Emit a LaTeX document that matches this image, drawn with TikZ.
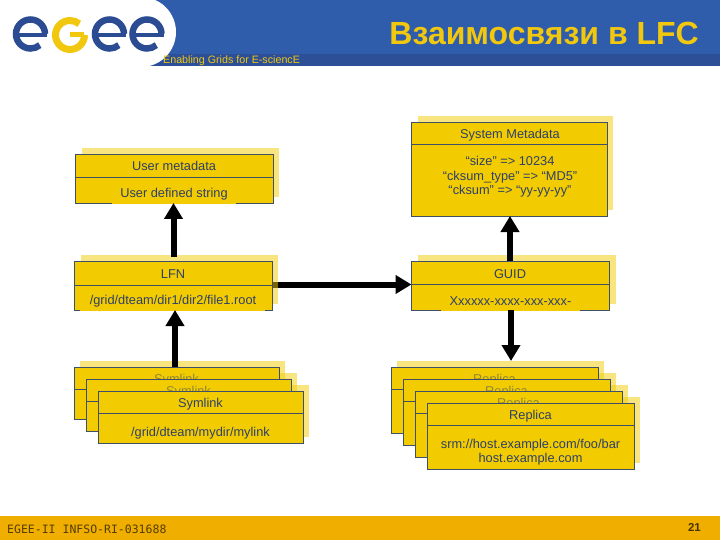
\documentclass[tikz,border=0pt]{standalone}
\usepackage{fontspec}
\setmainfont{Liberation Sans}
\newfontfamily\monof{DejaVu Sans Mono}
\usetikzlibrary{arrows.meta}
\definecolor{hblue}{HTML}{2F5CAB}
\definecolor{hband}{HTML}{2C4F97}
\definecolor{lblue}{HTML}{2B4C93}
\definecolor{lyel}{HTML}{F2C80F}
\definecolor{boxf}{HTML}{F2CC00}
\definecolor{boxl}{HTML}{3F4F66}
\definecolor{boxt}{HTML}{2E3F6A}
\definecolor{foot}{HTML}{F0AE00}
\tikzset{
 shad/.style={fill=boxf,fill opacity=.5,inner sep=0pt,outer sep=0pt},
 card/.style={fill=boxf,draw=boxl,line width=.8pt,inner sep=0pt,outer sep=0pt},
 lab/.style={text=boxt,font=\fontsize{12.8}{14.7}\selectfont,align=center,inner sep=0pt,yshift=-1.3pt},
 notch/.style={fill=boxf,inner sep=0pt},
 faded/.style={text=boxt!50!boxf,font=\fontsize{12.8}{15}\selectfont,inner sep=0pt,yshift=-1.3pt},
 conn/.style={line width=6pt,-{Triangle[length=16pt,width=18pt]}},
 logoE/.style={line width=7pt,draw=lblue},
 logoG/.style={line width=7pt,draw=lyel}
}
\newcommand{\cardat}[6]{%
 \node[shad,minimum width={(#4-#2)*1pt},minimum height={(#5-#3)*1pt}] (#1s) at ({(#2+#4)/2+6},{(#3+#5)/2-6}) {};
}
\newcommand{\cardbox}[6]{%
 \node[card,minimum width={(#4-#2)*1pt},minimum height={(#5-#3)*1pt}] (#1) at ({(#2+#4)/2},{(#3+#5)/2}) {};
 \draw[boxl,line width=.8pt] (#1.west |- 0,#6) -- (#1.east |- 0,#6);
}
\newcommand{\logoe}[2]{%
 \draw[logoE,line width=4.5pt] ({#1-14.5},#2) -- ({#1+16.5},#2);
 \draw[logoE,line width=6.5pt] ({#1+14.5},{#2-1}) arc[start angle=0,end angle=310,x radius=14.5pt,y radius=14.5pt];
}
\begin{document}
\begin{tikzpicture}[x=1pt,y=-1pt]
\useasboundingbox (0,0) rectangle (720,540);
\fill[white] (0,0) rectangle (720,540);
% header
\fill[hblue] (0,0) rectangle (720,54);
\fill[hband] (0,54) rectangle (720,66);
\fill[white] (0,0) rectangle (141,67);
\fill[white] (141,32) circle[radius=35];
\logoe{30.5}{35}
\draw[logoG,line width=5pt] (70,35) -- (84,35);
\draw[logoG] (84.5,35) arc[start angle=0,end angle=-310,radius=14.5pt];
\logoe{109.5}{35}
\logoe{147}{35}
\node[anchor=west,text=lyel,font=\fontsize{10.7}{12}\selectfont,inner sep=0pt] (tag) at (163,60.5) {Enabling Grids for E-sciencE};
\node[anchor=east,text=lyel,font=\fontsize{32}{36}\bfseries\selectfont,inner sep=0pt] (title) at (699,33) {Взаимосвязи в LFC};
% footer
\fill[foot] (0,516) rectangle (720,540);
\node[anchor=west,text=black!65!foot,font=\fontsize{11.5}{13}\monof\selectfont,inner sep=0pt] (ftr) at (7,529) {EGEE-II INFSO-RI-031688};
\node[anchor=east,text=black!70!foot,font=\fontsize{11.5}{13}\bfseries\selectfont,inner sep=0pt] (pg) at (701,527) {21};
% shadows, the horizontal arrow below them
\coordinate (hstart) at (272,284.5);
\coordinate (hend) at (411.5,284.5);
\draw[conn] (hstart) -- (hend);
\cardat{um}{75.5}{154}{273}{203}{177}
\cardat{lfn}{74.5}{261}{272}{310}{285}
\cardat{sm}{411.5}{122.5}{607}{216}{144}
\cardat{gu}{411.5}{261}{609.5}{310}{284}
\cardat{sa}{74}{367}{279}{419}{389}
\cardat{sb}{86}{379}{291}{431}{401}
\cardat{sc}{98}{391}{303}{443}{413}
\cardat{ra}{391}{367}{598}{433}{389}
\cardat{rb}{403}{379}{610}{445}{401}
\cardat{rc}{415}{391}{622}{457}{413}
\cardat{rd}{427}{403}{634}{469}{425}
% single boxes
\cardbox{um}{75.5}{154}{273}{203}{177}
\cardbox{lfn}{74.5}{261}{272}{310}{285}
\cardbox{sm}{411.5}{122.5}{607}{216}{144}
\cardbox{gu}{411.5}{261}{609.5}{310}{284}
\node[lab] (umh) at (174,165) {User metadata};
\node[notch,minimum width=124pt,minimum height=5pt] (umn) at (174,201.5) {};
\node[lab] (umt) at (174,193) {User defined string};
\node[lab] (lfnh) at (173,272.5) {LFN};
\node[notch,minimum width=185pt,minimum height=5pt] (lfnn) at (172.5,308.5) {};
\node[lab] (lfnt) at (173,300) {/grid/dteam/dir1/dir2/file1.root};
\node[lab] (smh) at (510,133.5) {System Metadata};
\node[lab] (smt) at (510,175.5) {“size” => 10234\\“cksum\_type” => “MD5”\\“cksum” => “yy-yy-yy”};
\node[lab] (guh) at (510,272.5) {GUID};
\node[notch,minimum width=139pt,minimum height=5pt] (gun) at (510.5,308.5) {};
\node[lab] (gut) at (510.5,300) {Xxxxxx-xxxx-xxx-xxx-};
% stacks
\cardbox{sa}{74}{367}{279}{419}{389}
\node[faded] (sal) at (176.5,379) {Symlink};
\cardbox{sb}{86}{379}{291}{431}{401}
\node[faded] (sbl) at (188.5,391) {Symlink};
\cardbox{sc}{98}{391}{303}{443}{413}
\node[lab] (sch) at (200.5,402.5) {Symlink};
\node[lab] (sct) at (200.5,432) {/grid/dteam/mydir/mylink};
\cardbox{ra}{391}{367}{598}{433}{389}
\node[faded] (ral) at (494.5,379) {Replica};
\cardbox{rb}{403}{379}{610}{445}{401}
\node[faded] (rbl) at (506.5,391) {Replica};
\cardbox{rc}{415}{391}{622}{457}{413}
\node[faded] (rcl) at (518.5,403) {Replica};
\cardbox{rd}{427}{403}{634}{469}{425}
\node[lab] (rdh) at (530.5,414.5) {Replica};
\node[lab] (rdt) at (530.5,451) {srm://host.example.com/foo/bar\\host.example.com};
% connectors
\draw[conn,shorten <=4pt] (lfn.north -| 173.5,0) -- (um.south -| 173.5,0);
\draw[conn] (sa.north -| 175,0) -- (lfn.south -| 175,0);
\draw[conn] (gu.north -| 510,0) -- (sm.south -| 510,0);
\draw[conn] (gu.south -| 511,0) -- (ras.north -| 511,0);
\end{tikzpicture}
\end{document}
